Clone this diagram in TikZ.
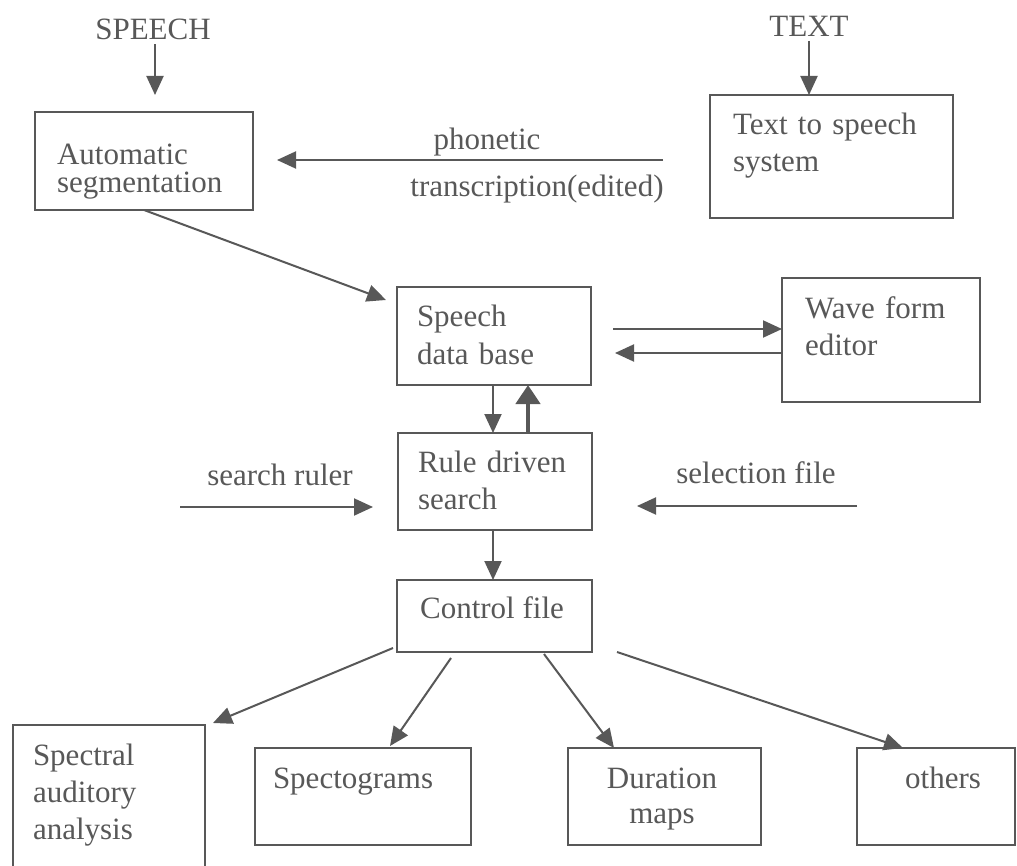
\documentclass[tikz,border=0pt]{standalone}
\usepackage{fontspec}
\setmainfont{Liberation Serif}
\usetikzlibrary{arrows.meta,calc}
\definecolor{ink}{RGB}{88,88,88}
\begin{document}
\begin{tikzpicture}[x=1pt,y=-1pt,
  box/.style={draw=ink,line width=2.2pt,inner sep=0pt,outer sep=0pt},
  lbl/.style={text=ink,inner sep=0pt,outer sep=0pt,font=\fontsize{31}{37}\selectfont},
  ml/.style={lbl,anchor=base west,text width=#1,align=left},
  mc/.style={lbl,anchor=base,text width=#1,align=center},
  arr/.style={draw=ink,line width=2pt,-{Triangle[length=19pt,width=17pt]}},
  thickarr/.style={draw=ink,line width=4.5pt,-{Triangle[length=19pt,width=24pt]}},
  ]
\clip (0,0) rectangle (1017,866);
\fill[white] (0,0) rectangle (1017,866);

% boxes
\node[box,minimum width=218pt,minimum height=98pt]  (seg)  at (144,161) {};
\node[box,minimum width=243pt,minimum height=123pt] (tts)  at (831.5,156.5) {};
\node[box,minimum width=194pt,minimum height=98pt]  (sdb)  at (494,336) {};
\node[box,minimum width=198pt,minimum height=124pt] (wave) at (881,340) {};
\node[box,minimum width=194pt,minimum height=97pt]  (rule) at (495,481.5) {};
\node[box,minimum width=195pt,minimum height=72pt]  (ctl)  at (494.5,616) {};
\node[box,minimum width=192pt,minimum height=160pt] (spec) at (109,805) {};
\node[box,minimum width=216pt,minimum height=97pt]  (spg)  at (363,796.5) {};
\node[box,minimum width=193pt,minimum height=97pt]  (dur)  at (664.5,796.5) {};
\node[box,minimum width=158pt,minimum height=97pt]  (oth)  at (936,796.5) {};

% texts
\node[lbl,anchor=base] (speech) at (153,40) {SPEECH};
\node[lbl,anchor=base] (textin) at (809,37) {TEXT};
\node[ml=210pt,font=\fontsize{31}{28}\selectfont] (segT) at (57,165) {Automatic\\segmentation};
\node[ml=220pt] (ttsT) at (733,135) {Text to speech\\system};
\node[lbl,anchor=base] (phon) at (487,150) {phonetic};
\node[lbl,anchor=base] (trans) at (537,197) {transcription(edited)};
\node[ml=170pt] (sdbT) at (417,327) {Speech\\data base};
\node[ml=170pt] (waveT) at (805,319) {Wave form\\editor};
\node[ml=170pt] (ruleT) at (418,472) {Rule driven\\search};
\node[lbl,anchor=base] (sruler) at (280,485) {search ruler};
\node[lbl,anchor=base] (sfile) at (756,483) {selection file};
\node[lbl,anchor=base] (ctlT) at (492,618) {Control file};
\node[ml=170pt] (specT) at (33,765) {Spectral\\auditory\\analysis};
\node[lbl,anchor=base west] (spgT) at (273,788) {Spectograms};
\node[mc=180pt,font=\fontsize{31}{35}\selectfont] (durT) at (662,788) {Duration\\maps};
\node[lbl,anchor=base] (othT) at (943,788) {others};

% free ends
\coordinate (spTip) at (155,95);
\coordinate (phA) at (663,160);
\coordinate (phB) at (277,160);
\coordinate (sdbIn) at (386,300);
\coordinate (wA) at (613,329);
\coordinate (wB) at (615,353);
\coordinate (srA) at (180,507);
\coordinate (srB) at (373,507);
\coordinate (sfA) at (857,506);
\coordinate (sfB) at (637,506);
\coordinate (c1) at (393,648);
\coordinate (c1t) at (213,723);
\coordinate (c2) at (451,658);
\coordinate (c2t) at (390,746);
\coordinate (c3) at (544,654);
\coordinate (c3t) at (614,748);
\coordinate (c4) at (617,652);
\coordinate (c4t) at (903,748);

% connectors
\draw[arr,shorten <=4pt] (speech.south -| spTip) -- (spTip);
\draw[arr,shorten <=4pt] (textin.south) -- (textin.south |- tts.north);
\draw[arr] (phA) -- (phB);
\draw[arr] (seg.south) -- (sdbIn);
\draw[arr] (wA) -- (wA -| wave.west);
\draw[arr] (wB -| wave.west) -- (wB);
\draw[arr] ([xshift=-1pt]sdb.south) -- ([xshift=-1pt]sdb.south |- rule.north);
\draw[thickarr] ([xshift=33pt]rule.north) -- ([xshift=33pt]rule.north |- sdb.south);
\draw[arr] (srA) -- (srB);
\draw[arr] (sfA) -- (sfB);
\draw[arr] ([xshift=-2pt]rule.south) -- ([xshift=-2pt]rule.south |- ctl.north);
\draw[arr] (c1) -- (c1t);
\draw[arr] (c2) -- (c2t);
\draw[arr] (c3) -- (c3t);
\draw[arr] (c4) -- (c4t);
\end{tikzpicture}
\end{document}
